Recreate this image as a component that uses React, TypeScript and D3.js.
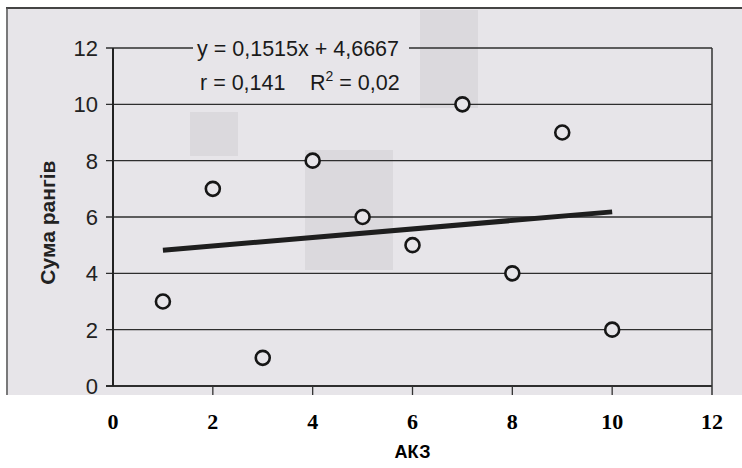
import React, { useRef, useEffect } from 'react';
import * as d3 from 'd3';

// points: АКЗ vs Сума рангів
const akz = [1, 2, 3, 4, 5, 6, 7, 8, 9, 10];
const rankSum = [3, 7, 1, 8, 6, 5, 10, 4, 9, 2];
const xTicks = [0, 2, 4, 6, 8, 10, 12];
const yTicks = [0, 2, 4, 6, 8, 10, 12];
const slope = 0.1515;
const intercept = 4.6667;
const eqLine1 = 'y = 0,1515x + 4,6667';
const eqR = 'r = 0,141';
const eqR2 = '0,02';
const xTitle = 'АКЗ';
const yTitle = 'Сума рангів';

const W = 742;
const H = 468;
const bg = '#e7e5e9';

const App = () => {
  const ref = useRef<SVGSVGElement>(null);

  useEffect(() => {
    const svg = d3.select(ref.current);
    svg.selectAll('*').remove();

    const x = d3.scaleLinear().domain([0, 12]).range([113, 712]);
    const y = d3.scaleLinear().domain([0, 12]).range([386, 48]);

    // scanned page area
    svg.append('rect').attr('x', 0).attr('y', 0).attr('width', W).attr('height', H).attr('fill', '#fff');
    svg.append('rect').attr('x', 6).attr('y', 8).attr('width', W - 6).attr('height', 387).attr('fill', bg);
    svg.append('line').attr('x1', 6).attr('x2', W).attr('y1', 8).attr('y2', 8)
      .attr('stroke', '#444').attr('stroke-width', 2);
    svg.append('line').attr('x1', 7).attr('x2', 7).attr('y1', 8).attr('y2', 395)
      .attr('stroke', '#555').attr('stroke-width', 1.5);

    // faint shading bleeding through from the page
    const shade = svg.append('g').attr('fill', '#bdbbc0').attr('opacity', 0.28);
    shade.append('rect').attr('x', 420).attr('y', 10).attr('width', 58).attr('height', 98);
    shade.append('rect').attr('x', 305).attr('y', 150).attr('width', 88).attr('height', 120);
    shade.append('rect').attr('x', 190).attr('y', 112).attr('width', 48).attr('height', 44);

    // grid lines
    svg.append('g')
      .selectAll('line')
      .data(yTicks)
      .join('line')
      .attr('x1', x(0) - 7)
      .attr('x2', x(12))
      .attr('y1', d => y(d))
      .attr('y2', d => y(d))
      .attr('stroke', '#2e2e2e')
      .attr('stroke-width', d => (d === 0 ? 2 : 1.4));

    // axes lines
    svg.append('line').attr('x1', x(0)).attr('x2', x(0)).attr('y1', y(12)).attr('y2', y(0))
      .attr('stroke', '#222').attr('stroke-width', 2);
    svg.append('line').attr('x1', x(12)).attr('x2', x(12)).attr('y1', y(12)).attr('y2', 395)
      .attr('stroke', '#333').attr('stroke-width', 1.5);

    // x ticks below axis
    svg.append('g')
      .selectAll('line')
      .data(xTicks.filter(d => d > 0 && d < 12))
      .join('line')
      .attr('x1', d => x(d))
      .attr('x2', d => x(d))
      .attr('y1', y(0))
      .attr('y2', 395)
      .attr('stroke', '#333')
      .attr('stroke-width', 1.3);

    // y tick labels
    svg.append('g')
      .selectAll('text')
      .data(yTicks)
      .join('text')
      .attr('x', 98)
      .attr('y', d => y(d) + 8)
      .attr('text-anchor', 'end')
      .attr('font-family', 'Liberation Sans, Arial, sans-serif')
      .attr('font-size', 22)
      .attr('fill', '#222')
      .text(d => d);

    // x tick labels
    svg.append('g')
      .selectAll('text')
      .data(xTicks)
      .join('text')
      .attr('x', d => x(d))
      .attr('y', 429)
      .attr('text-anchor', 'middle')
      .attr('font-family', 'Liberation Serif, Times New Roman, serif')
      .attr('font-weight', 'bold')
      .attr('font-size', 22)
      .attr('fill', '#000')
      .text(d => d);

    svg.append('text')
      .attr('x', x(6))
      .attr('y', 458)
      .attr('text-anchor', 'middle')
      .attr('font-family', 'Liberation Sans, Arial, sans-serif')
      .attr('font-weight', 'bold')
      .attr('font-size', 18)
      .text(xTitle);

    svg.append('text')
      .attr('transform', `translate(55, ${y(5.8)}) rotate(-90)`)
      .attr('text-anchor', 'middle')
      .attr('font-family', 'Liberation Sans, Arial, sans-serif')
      .attr('font-weight', 'bold')
      .attr('font-size', 21)
      .attr('fill', '#222')
      .text(yTitle);

    // trend line
    const line = d3.line<number>()
      .x(d => x(d))
      .y(d => y(slope * d + intercept));
    svg.append('path')
      .attr('d', line([d3.min(akz)!, d3.max(akz)!]))
      .attr('fill', 'none')
      .attr('stroke', '#1e1e1e')
      .attr('stroke-width', 5);

    // points
    svg.append('g')
      .selectAll('circle')
      .data(akz.map((v, i) => [v, rankSum[i]]))
      .join('circle')
      .attr('cx', d => x(d[0]))
      .attr('cy', d => y(d[1]))
      .attr('r', 7)
      .attr('fill', bg)
      .attr('stroke', '#161616')
      .attr('stroke-width', 2.6);

    // equation label
    svg.append('rect').attr('x', 193).attr('y', 36).attr('width', 216).attr('height', 58).attr('fill', bg);
    const eq = svg.append('g')
      .attr('font-family', 'Liberation Sans, Arial, sans-serif')
      .attr('font-size', 21.5)
      .attr('fill', '#1a1a1a');
    eq.append('text').attr('x', 197).attr('y', 56).text(eqLine1);
    eq.append('text').attr('x', 200).attr('y', 90).text(eqR);
    const t2 = eq.append('text').attr('x', 310).attr('y', 90);
    t2.append('tspan').text('R');
    t2.append('tspan').attr('dy', -9).attr('font-size', 14).text('2');
    t2.append('tspan').attr('dy', 9).text(' = ' + eqR2);
  }, []);

  return (
    <svg
      ref={ref}
      width={W}
      height={H}
      style={{ position: 'absolute', left: 0, top: 0, display: 'block' }}
    />
  );
};

export default App;
